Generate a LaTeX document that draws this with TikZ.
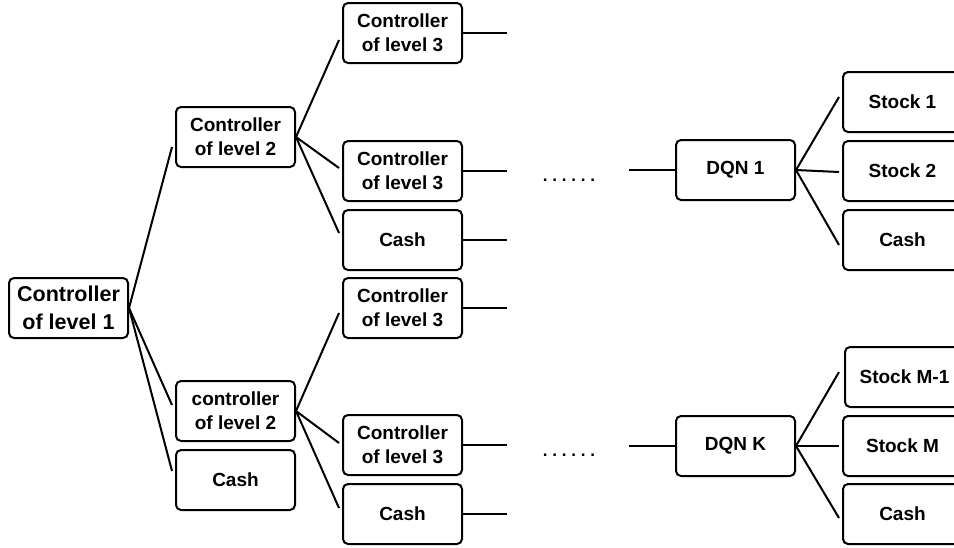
\documentclass[tikz,border=0pt]{standalone}
\usepackage{fontspec}
\setmainfont{Liberation Sans}
\begin{document}
\begin{tikzpicture}[x=1pt,y=-1pt,
  box/.style={draw, line width=2pt, rounded corners=5pt, minimum width=119pt,
    minimum height=60pt, inner sep=0pt, align=center,
    font=\fontsize{19}{24}\selectfont\bfseries},
  bigbox/.style={box, font=\fontsize{21.5}{27.5}\selectfont\bfseries},
  link/.style={line width=2pt},
  dots/.style={inner sep=0pt, font=\fontsize{17}{17}\selectfont\bfseries}]
\useasboundingbox (0,0) rectangle (954,547);

% level 1 and level 2
\node[bigbox] (c1) at (68.5,308) {Controller\\of level 1};
\node[box] (c2a) at (235.5,137) {Controller\\of level 2};
\node[box] (c2b) at (235.5,411) {controller\\of level 2};
\node[box] (cash1) at (235.5,480) {Cash};

% level 3, upper group
\node[box] (c3a) at (402.5,33) {Controller\\of level 3};
\node[box] (c3b) at (402.5,171) {Controller\\of level 3};
\node[box] (cash2) at (402.5,240) {Cash};
% level 3, lower group
\node[box] (c3c) at (402.5,308) {Controller\\of level 3};
\node[box] (c3d) at (402.5,445) {Controller\\of level 3};
\node[box] (cash3) at (402.5,514) {Cash};

% dots
\node[dots] (dotsa) at (569,180) {.\kern4.8pt.\kern4.8pt.\kern4.8pt.\kern4.8pt.\kern4.8pt.};
\node[dots] (dotsb) at (569,455) {.\kern4.8pt.\kern4.8pt.\kern4.8pt.\kern4.8pt.\kern4.8pt.};

% DQN
\node[box] (dqn1) at (735.5,170) {DQN 1};
\node[box] (dqnk) at (735.5,446) {DQN K};

\node[box] (s1) at (902.5,102) {Stock 1};
\node[box] (s2) at (902.5,171) {Stock 2};
\node[box] (cash4) at (902.5,240) {Cash};
\node[box] (sm1) at (904.5,377) {Stock M-1};
\node[box] (sm) at (902.5,446) {Stock M};
\node[box] (cash5) at (902.5,514) {Cash};

% dangling ends
\coordinate (e1) at (507,33);
\coordinate (e2) at (507,171);
\coordinate (e3) at (507,240);
\coordinate (e4) at (507,308);
\coordinate (e5) at (507,445);
\coordinate (e6) at (507,514);
\coordinate (b1) at (629,170);
\coordinate (b2) at (629,446);

% connectors level 1 -> level 2
\draw[link] (c1.east) -- ([xshift=-3pt,yshift=-10pt]c2a.west);
\draw[link] (c1.east) -- ([xshift=-3pt,yshift=6pt]c2b.west);
\draw[link] (c1.east) -- ([xshift=-3pt,yshift=9pt]cash1.west);

% level 2 -> level 3
\draw[link] (c2a.east) -- ([xshift=-3pt,yshift=-7pt]c3a.west);
\draw[link] (c2a.east) -- ([xshift=-3pt,yshift=3pt]c3b.west);
\draw[link] (c2a.east) -- ([xshift=-3pt,yshift=7pt]cash2.west);
\draw[link] (c2b.east) -- ([xshift=-3pt,yshift=-5pt]c3c.west);
\draw[link] (c2b.east) -- ([xshift=-3pt,yshift=2pt]c3d.west);
\draw[link] (c2b.east) -- ([xshift=-3pt,yshift=6pt]cash3.west);

% level 3 outgoing
\draw[link] (c3a.east) -- (e1);
\draw[link] (c3b.east) -- (e2);
\draw[link] (cash2.east) -- (e3);
\draw[link] (c3c.east) -- (e4);
\draw[link] (c3d.east) -- (e5);
\draw[link] (cash3.east) -- (e6);

% incoming to DQN
\draw[link] (b1) -- (dqn1.west);
\draw[link] (b2) -- (dqnk.west);

% DQN -> stocks
\draw[link] (dqn1.east) -- ([xshift=-3pt,yshift=5pt]s1.west);
\draw[link] (dqn1.east) -- ([xshift=-3pt,yshift=-1pt]s2.west);
\draw[link] (dqn1.east) -- ([xshift=-3pt,yshift=-5pt]cash4.west);
\draw[link] (dqnk.east) -- ([xshift=-5pt,yshift=5pt]sm1.west);
\draw[link] (dqnk.east) -- ([xshift=-3pt]sm.west);
\draw[link] (dqnk.east) -- ([xshift=-3pt,yshift=-4pt]cash5.west);
\end{tikzpicture}
\end{document}
